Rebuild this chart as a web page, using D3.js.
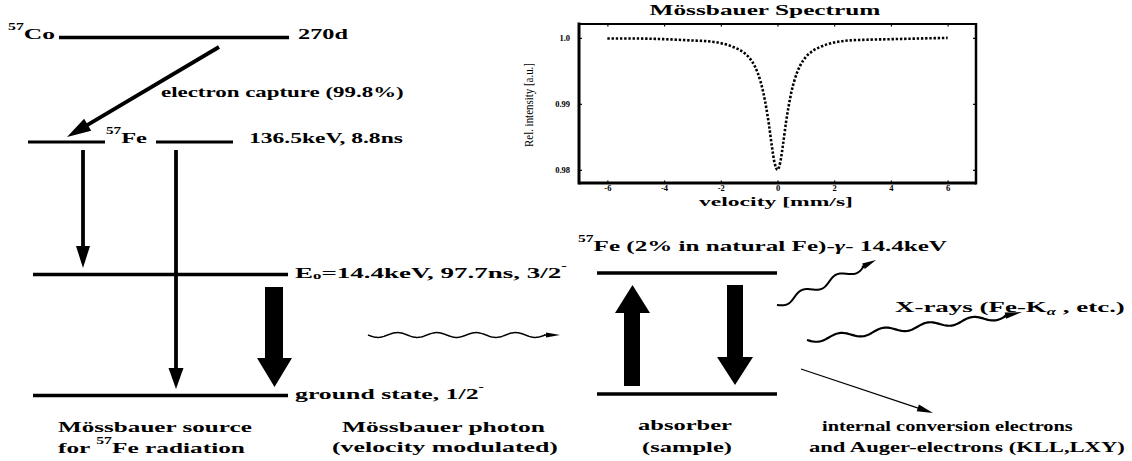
<!DOCTYPE html>
<html>
<head>
<meta charset="utf-8">
<script src="https://cdn.jsdelivr.net/npm/d3@7"></script>
<style>
  body { margin: 0; background: #fff; }
  text { white-space: pre; }
</style>
</head>
<body>
<div class="chart"></div>
<script>
// spectrum
const velocity = [-6, -5, -4, -3, -2.5, -2, -1.5, -1.2, -1, -0.8, -0.6, -0.5, -0.4, -0.3, -0.2, -0.1,
    0, 0.1, 0.2, 0.3, 0.4, 0.5, 0.6, 0.8, 1, 1.2, 1.5, 2, 2.5, 3, 4, 5, 6];
const intensity = [0.9999, 0.9999, 0.9998, 0.9996, 0.9995, 0.9992, 0.9985, 0.9978, 0.9970, 0.9957, 0.9934, 0.9917, 0.9895, 0.9868, 0.9836, 0.9810,
    0.9800, 0.9812, 0.9840, 0.9872, 0.9898, 0.9920, 0.9936, 0.9958, 0.9971, 0.9979, 0.9986, 0.9993, 0.9996, 0.9997, 0.9998, 0.9999, 1.0000];
const xTicks = [-6, -4, -2, 0, 2, 4, 6];
const yTicks = [0.98, 0.99, 1.0];
const yTickLabels = ['0.98', '0.99', '1.0'];

const fullWidth = 1132;
const fullHeight = 461;
const font = '"Liberation Serif", "Times New Roman", serif';

const svg = d3.select('.chart')
    .append('svg')
        .attr('width', fullWidth)
        .attr('height', fullHeight)
        .style('display', 'block');

svg.append('rect').attr('width', fullWidth).attr('height', fullHeight).attr('fill', '#fff');

// text with optional sup/sub parts, stretched to the width seen in the scan
function label(x, y, parts, width, anchor = 'start', size = 15.5, weight = 'bold') {
    const g = svg.append('g').attr('transform', `translate(${x},${y})`);
    const text = g.append('text')
        .attr('font-family', font)
        .attr('font-size', size)
        .attr('font-weight', weight)
        .attr('text-anchor', anchor)
        .attr('fill', '#000');
    let shift = 0;
    parts.forEach(p => {
        const o = typeof p === 'string' ? {t: p} : p;
        const off = o.sup ? -0.55 * size : o.sub ? (o.low || 0.15) * size : 0;
        text.append('tspan')
            .attr('dy', off - shift)
            .attr('font-size', o.sup || o.sub ? size * 0.62 : size)
            .attr('font-style', o.it ? 'italic' : null)
            .text(o.t);
        shift = off;
    });
    if (width) {
        const w = text.node().getComputedTextLength();
        g.attr('transform', `translate(${x},${y}) scale(${width / w},1)`);
    }
    return g;
}

function hline(x1, x2, y, w = 3.5) {
    svg.append('line').attr('x1', x1).attr('x2', x2).attr('y1', y).attr('y2', y)
        .attr('stroke', '#000').attr('stroke-width', w);
}

function head(tx, ty, fx, fy, len, half) {
    const dx = tx - fx, dy = ty - fy, l = Math.hypot(dx, dy);
    const ux = dx / l, uy = dy / l;
    const bx = tx - ux * len, by = ty - uy * len;
    svg.append('polygon')
        .attr('points', [[tx, ty], [bx - uy * half, by + ux * half], [bx + uy * half, by - ux * half]].join(' '))
        .attr('fill', '#000');
    return [bx, by];
}

function arrow(fx, fy, tx, ty, w, len, half) {
    const [bx, by] = head(tx, ty, fx, fy, len, half);
    svg.append('line').attr('x1', fx).attr('y1', fy).attr('x2', bx + (tx - fx) * 0.02).attr('y2', by + (ty - fy) * 0.02)
        .attr('stroke', '#000').attr('stroke-width', w);
}

// block arrow: shaft x0..x1, head hx0..hx1
function block(x0, x1, hx0, hx1, yTail, yBase, yTip) {
    const cx = (hx0 + hx1) / 2;
    svg.append('polygon')
        .attr('points', [[x0, yTail], [x1, yTail], [x1, yBase], [hx1, yBase], [cx, yTip], [hx0, yBase], [x0, yBase]].join(' '))
        .attr('fill', '#000');
}

function wave(x0, y0, x1, y1, periods, amp, w) {
    const l = Math.hypot(x1 - x0, y1 - y0), ux = (x1 - x0) / l, uy = (y1 - y0) / l;
    const pts = d3.range(0, 1.0001, 0.005).map(t => {
        const s = Math.sin(t * periods * 2 * Math.PI) * amp;
        return [x0 + (x1 - x0) * t - uy * s, y0 + (y1 - y0) * t + ux * s];
    });
    svg.append('path').attr('d', d3.line()(pts)).attr('fill', 'none')
        .attr('stroke', '#000').attr('stroke-width', w);
}

// ---------- decay scheme (source) ----------
label(8, 38.5, [{t: '57', sup: true}, 'Co'], 47);
hline(59, 289, 37.5);
label(298, 38.5, ['270d'], 50);

arrow(219, 47, 67, 137, 3.8, 24, 7);
label(161, 97, ['electron capture (99.8%)'], 243);

hline(28, 105, 142, 3.2);
label(106, 142.5, [{t: '57', sup: true}, 'Fe'], 41);
hline(156, 233, 142, 2.8);
label(249, 142.5, ['136.5keV, 8.8ns'], 154);

arrow(83, 150, 83, 268, 3.8, 22, 7);
arrow(176, 150, 176, 389, 3.8, 21, 7.5);

hline(33, 288, 274.5);
label(295, 277.5, ['E', {t: 'o', sub: true, low: 0.08}, '=14.4keV, 97.7ns, 3/2', {t: '-', sup: true}], 272);
block(265, 283, 257, 292, 287, 358, 387);
hline(33, 288, 395.5);
label(295, 398.5, ['ground state, 1/2', {t: '-', sup: true}], 189);

label(58, 431.5, ['Mössbauer source'], 194);
label(58, 452.5, ['for ', {t: '57', sup: true}, 'Fe radiation'], 187);

// ---------- photon ----------
wave(368, 335, 545, 335, 4.5, 2.4, 1.5);
arrow(544, 335, 560, 335, 1.5, 14, 2.6);
label(342, 432, ['Mössbauer photon'], 203);
label(332, 451.5, ['(velocity modulated)'], 226);

// ---------- absorber ----------
label(578, 251, [{t: '57', sup: true}, 'Fe (2% in natural Fe)-', {t: 'γ', it: true}, '- 14.4keV'], 369);
hline(597, 777, 273);
hline(597, 777, 394);
block(624, 640, 615, 650, 386, 313, 285);
block(727, 743, 717, 753, 285, 357, 385);
label(638, 430, ['absorber'], 94);
label(642, 451.5, ['(sample)'], 90);

wave(777, 305, 864, 266, 2.5, 3.5, 2);
arrow(862, 267, 876, 260, 2, 14, 3);
wave(807, 340, 1006, 316, 4.5, 3, 2.2);
arrow(1004, 316, 1022, 312, 2, 17, 3.2);
label(895, 311.5, ['X-rays (Fe-K', {t: 'α', sub: true, it: true, low: 0.25}, ' , etc.)'], 230);

arrow(801, 369, 933, 413, 1.3, 16, 3.5);
label(822, 431, ['internal conversion electrons'], 251);
label(809, 452, ['and Auger-electrons (KLL,LXY)'], 316);

// ---------- inset spectrum ----------
const x = d3.scaleLinear().domain([-7, 7]).range([579, 976]);
const y = d3.scaleLinear().domain([0.978, 1.0021]).range([183, 24]);

label(765, 15, ['Mössbauer Spectrum'], 231, 'middle');

const frame = svg.append('g').attr('stroke', '#000').attr('fill', 'none');
frame.append('line').attr('x1', x(-7)).attr('x2', x(7)).attr('y1', y.range()[1]).attr('y2', y.range()[1]).attr('stroke-width', 1.8);
frame.append('line').attr('x1', x(-7)).attr('x2', x(7)).attr('y1', y.range()[0]).attr('y2', y.range()[0]).attr('stroke-width', 3);
frame.append('line').attr('x1', x(-7)).attr('x2', x(-7)).attr('y1', 22.5).attr('y2', 184.5).attr('stroke-width', 3);
frame.append('line').attr('x1', x(7)).attr('x2', x(7)).attr('y1', 23).attr('y2', 184.5).attr('stroke-width', 2.5);

// inward ticks
const yAxisL = d3.axisLeft(y).tickValues(yTicks).tickSize(-3).tickFormat((d, i) => yTickLabels[i]).tickPadding(9);
const yAxisR = d3.axisRight(y).tickValues(yTicks).tickSize(-3).tickFormat('');
const xAxisB = d3.axisBottom(x).tickValues(xTicks).tickSize(-2.5).tickFormat(d => d).tickPadding(1.5);
const xAxisT = d3.axisTop(x).tickValues(xTicks).tickSize(-2.5).tickFormat('');

function styleAxis(g, size) {
    g.select('.domain').remove();
    g.selectAll('line').attr('stroke-width', 1.2);
    g.selectAll('text').attr('font-family', font).attr('font-weight', 'bold').attr('font-size', size).attr('fill', '#000');
}
svg.append('g').attr('transform', `translate(${x(-7)},0)`).call(yAxisL).call(g => styleAxis(g, 8.5));
svg.append('g').attr('transform', `translate(${x(7)},0)`).call(yAxisR).call(g => styleAxis(g, 8.5));
svg.append('g').attr('transform', `translate(0,${y.range()[0]})`).call(xAxisB).call(g => styleAxis(g, 8.5));
svg.append('g').attr('transform', `translate(0,${y.range()[1]})`).call(xAxisT).call(g => styleAxis(g, 8.5));

label(699, 205.5, ['velocity [mm/s]'], 154, 'start', 13.5);

const yl = label(0, 0, ['Rel. intensity [a.u.]'], null, 'middle', 12, 'normal');
yl.select('text').attr('textLength', 84).attr('lengthAdjust', 'spacingAndGlyphs');
yl.attr('transform', 'translate(533,105) rotate(-90)');

svg.append('path')
    .attr('d', d3.line().curve(d3.curveMonotoneX).x((d, i) => x(velocity[i])).y(d => y(d))(intensity))
    .attr('fill', 'none')
    .attr('stroke', '#000')
    .attr('stroke-width', 2.6)
    .attr('stroke-dasharray', '2.4,1.8');
</script>
</body>
</html>
